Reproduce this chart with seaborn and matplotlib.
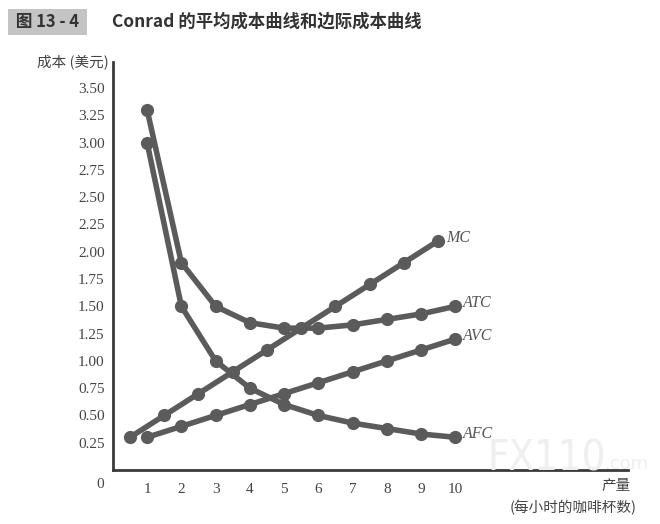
import matplotlib
matplotlib.use("Agg")
import matplotlib.pyplot as plt
import seaborn as sns
import pandas as pd

# data (Conrad's coffee shop)
quantity = [1, 2, 3, 4, 5, 6, 7, 8, 9, 10]
afc = [3.00, 1.50, 1.00, 0.75, 0.60, 0.50, 0.43, 0.38, 0.33, 0.30]
avc = [0.30, 0.40, 0.50, 0.60, 0.70, 0.80, 0.90, 1.00, 1.10, 1.20]
atc = [3.30, 1.90, 1.50, 1.35, 1.30, 1.30, 1.33, 1.38, 1.43, 1.50]
mc_quantity = [0.5, 1.5, 2.5, 3.5, 4.5, 5.5, 6.5, 7.5, 8.5, 9.5]
mc = [0.30, 0.50, 0.70, 0.90, 1.10, 1.30, 1.50, 1.70, 1.90, 2.10]

y_ticks = [0.25, 0.50, 0.75, 1.00, 1.25, 1.50, 1.75, 2.00, 2.25, 2.50, 2.75, 3.00, 3.25, 3.50]
x_ticks = [1, 2, 3, 4, 5, 6, 7, 8, 9, 10]


def main():
    sns.set_style("white")
    plt.rcParams['font.family'] = ['Liberation Serif', 'Noto Sans CJK SC', 'DejaVu Sans']

    line_color = "#5b5b5b"
    axis_color = "#3a3a3a"
    cjk = ['Noto Sans CJK SC', 'DejaVu Sans']

    curves = {
        "AFC": (quantity, afc),
        "AVC": (quantity, avc),
        "ATC": (quantity, atc),
        "MC": (mc_quantity, mc),
    }

    fig = plt.figure(figsize=(6.6, 5.24), dpi=100)
    ax = fig.add_axes([0.171, 0.103, 0.781, 0.779])

    # faint watermark behind the plot
    fig.text(0.738, 0.125, "FX110", fontsize=30, color="#efefef",
             ha="left", va="center", family=["DejaVu Sans"],
             fontstretch="condensed", zorder=0)
    fig.text(0.915, 0.115, ".com", fontsize=13, color="#efefef",
             ha="left", va="center", family=["DejaVu Sans"], zorder=0)

    for name, (xs, ys) in curves.items():
        df = pd.DataFrame({"q": xs, "cost": ys})
        sns.lineplot(data=df, x="q", y="cost", ax=ax, color=line_color,
                     linewidth=4, marker="o", markersize=9.5,
                     markeredgewidth=0, markerfacecolor=line_color)
        ax.text(xs[-1] + 0.22, ys[-1] + 0.03, name, fontsize=11.5, style="italic",
                color="#555555", ha="left", va="center")

    ax.set_xlim(0, 15.05)
    ax.set_ylim(0, 3.74)
    ax.set_xticks(x_ticks)
    ax.set_xticklabels([str(t) for t in x_ticks])
    ax.set_yticks(y_ticks)
    ax.set_yticklabels([f"{t:.2f}" for t in y_ticks])
    ax.tick_params(axis="both", direction="in", length=7, width=1.8,
                   colors=axis_color, labelsize=11, labelcolor="#444444")
    ax.tick_params(axis="x", pad=9)
    ax.tick_params(axis="y", pad=6)
    ax.set_xlabel("")
    ax.set_ylabel("")
    ax.patch.set_alpha(0)

    for side in ["top", "right"]:
        ax.spines[side].set_visible(False)
    for side in ["left", "bottom"]:
        ax.spines[side].set_color(axis_color)
        ax.spines[side].set_linewidth(2)

    ax.text(-0.38, -0.075, "0", transform=ax.transData, fontsize=11,
            color="#444444", ha="center", va="top")

    # titles and axis labels
    fig.text(0.018, 0.958, " 图 13 - 4 ", fontsize=12, fontweight="bold",
             color="#333333", ha="left", va="center", family=cjk,
             bbox=dict(boxstyle="square,pad=0.25", fc="#c4c4c4", ec="none"))
    fig.text(0.17, 0.958, "Conrad 的平均成本曲线和边际成本曲线", fontsize=12.5,
             fontweight="bold", color="#333333", ha="left", va="center", family=cjk)
    fig.text(0.165, 0.882, "成本 (美元)", fontsize=10.5, color="#444444",
             ha="right", va="center", family=cjk)
    fig.text(0.955, 0.072, "产量", fontsize=10.5, color="#444444",
             ha="right", va="center", family=cjk)
    fig.text(0.965, 0.031, "(每小时的咖啡杯数)", fontsize=10.5, color="#444444",
             ha="right", va="center", family=cjk)

    fig.savefig("out.png", dpi=100)
    plt.close(fig)


if __name__ == '__main__':
    main()
